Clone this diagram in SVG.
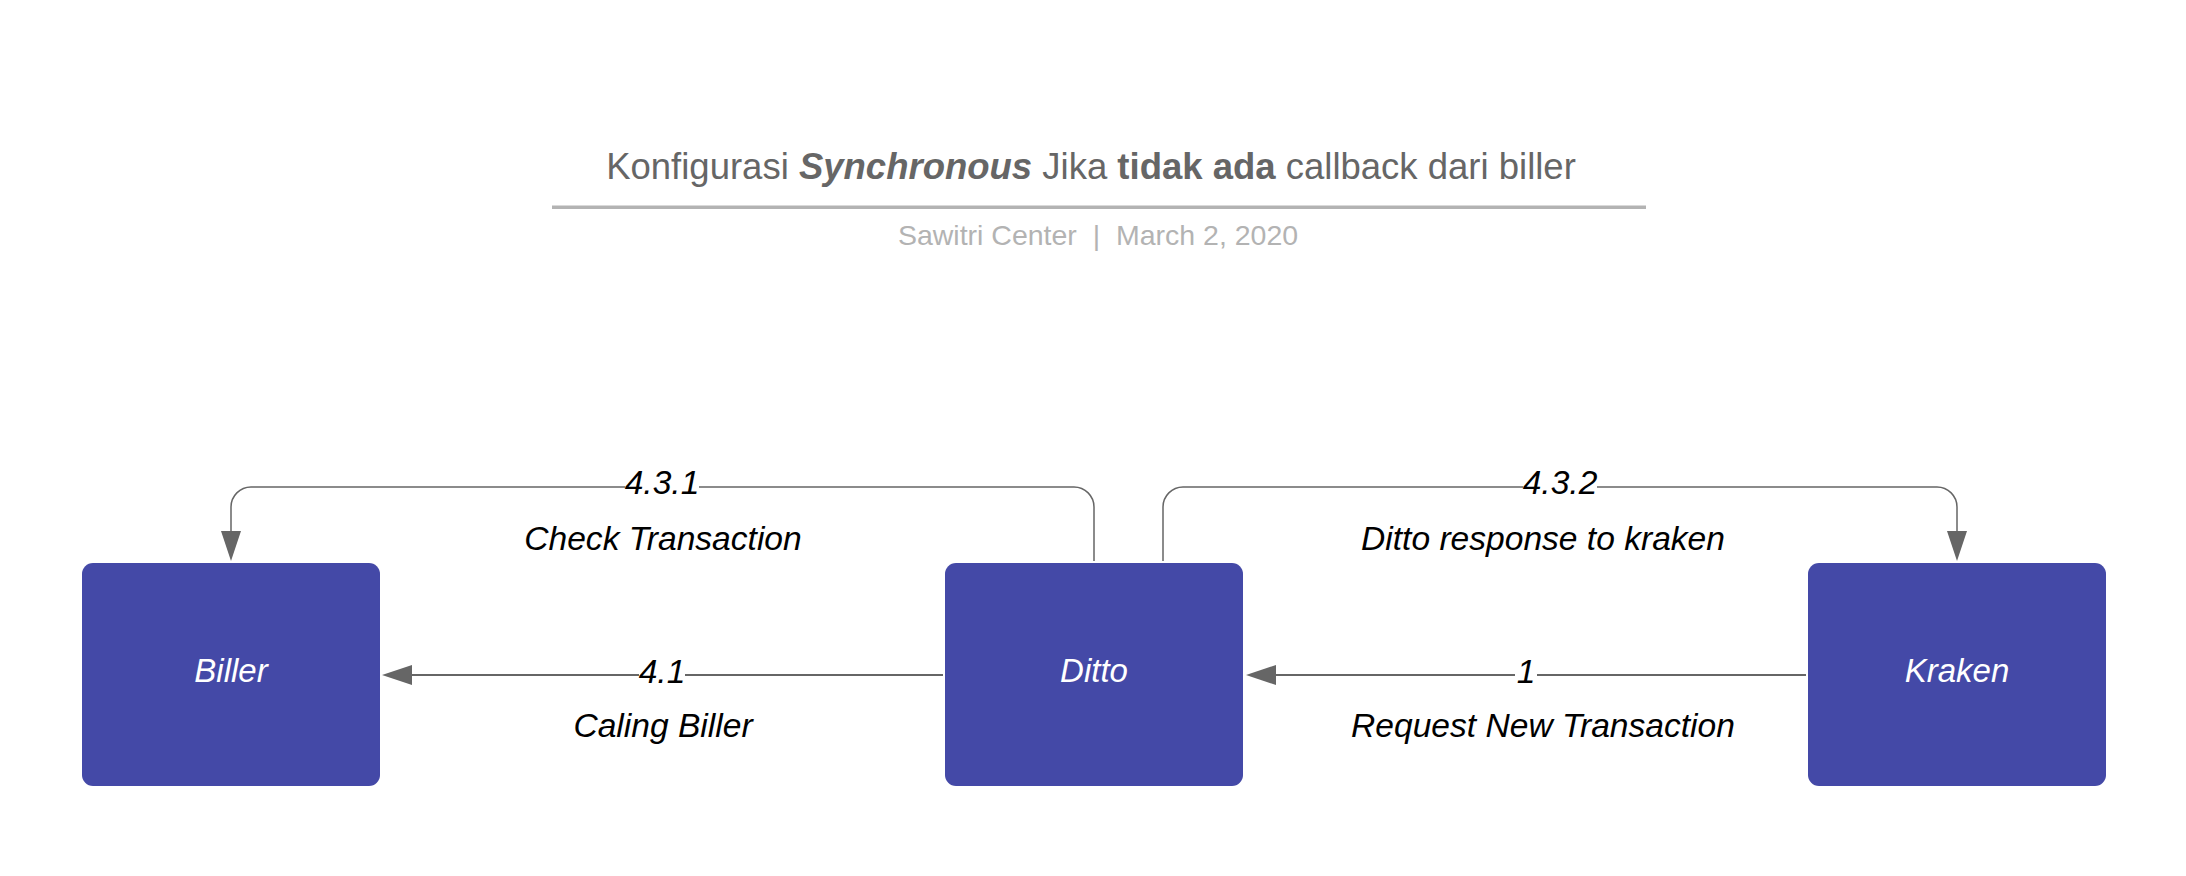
<svg xmlns="http://www.w3.org/2000/svg" width="2186" height="876" viewBox="0 0 2186 876">
  <style>
    .title { font-family: "Liberation Sans", Arial, sans-serif; font-size: 36.5px; fill: #666666; }
    .sub { font-family: "Liberation Sans", Arial, sans-serif; font-size: 28.5px; fill: #b3b3b3; white-space: pre; }
    .node rect { fill: #4449a7; }
    .node text { font-family: "Liberation Sans", Arial, sans-serif; font-size: 33px; font-style: italic; fill: #ffffff; text-anchor: middle; }
    .lbl { font-family: "Liberation Sans", Arial, sans-serif; font-size: 33.6px; font-style: italic; fill: #000000; text-anchor: middle; }
    .thin { fill: none; stroke: #666666; stroke-width: 1.5; }
    .thick { fill: none; stroke: #666666; stroke-width: 2; }
    .bg { fill: #ffffff; }
  </style>
  <defs>
    <marker id="arrow" viewBox="0 0 30 20" refX="0" refY="10" markerWidth="30" markerHeight="20" markerUnits="userSpaceOnUse" orient="auto">
      <path d="M0,0 L30,10 L0,20 Z" fill="#666666"/>
    </marker>
  </defs>
  <rect width="2186" height="876" fill="#ffffff"/>

  <g id="header">
    <text class="title" x="1091" y="179" text-anchor="middle">Konfigurasi <tspan font-weight="bold" font-style="italic">Synchronous</tspan> Jika <tspan font-weight="bold">tidak ada</tspan> callback dari biller</text>
    <rect x="552" y="205.5" width="1094" height="3.5" fill="#b3b3b3"/>
    <text class="sub" x="1098" y="245" text-anchor="middle">Sawitri Center  |  March 2, 2020</text>
  </g>

  <g id="connectors">
    <path class="thin" d="M1094,561 V507 A20,20 0 0 0 1074,487 H251 A20,20 0 0 0 231,507 V531" marker-end="url(#arrow)"/>
    <path class="thin" d="M1163,561 V507 A20,20 0 0 1 1183,487 H1937 A20,20 0 0 1 1957,507 V531" marker-end="url(#arrow)"/>
    <path class="thick" d="M943,675 H412" marker-end="url(#arrow)"/>
    <path class="thick" d="M1806,675 H1276" marker-end="url(#arrow)"/>

    <rect class="bg" x="625" y="470" width="74" height="30"/>
    <text class="lbl" x="662" y="494">4.3.1</text>
    <rect class="bg" x="1523" y="470" width="74" height="30"/>
    <text class="lbl" x="1560" y="494">4.3.2</text>
    <rect class="bg" x="639" y="659" width="46" height="30"/>
    <text class="lbl" x="662" y="683">4.1</text>
    <rect class="bg" x="1515" y="659" width="22" height="30"/>
    <text class="lbl" x="1526" y="683">1</text>

    <text class="lbl" x="663" y="550">Check Transaction</text>
    <text class="lbl" x="1543" y="550">Ditto response to kraken</text>
    <text class="lbl" x="663" y="737">Caling Biller</text>
    <text class="lbl" x="1543" y="737">Request New Transaction</text>
  </g>

  <g id="node-biller" class="node">
    <rect x="82" y="563" width="298" height="223" rx="11" ry="11"/>
    <text x="231" y="682">Biller</text>
  </g>
  <g id="node-ditto" class="node">
    <rect x="945" y="563" width="298" height="223" rx="11" ry="11"/>
    <text x="1094" y="682">Ditto</text>
  </g>
  <g id="node-kraken" class="node">
    <rect x="1808" y="563" width="298" height="223" rx="11" ry="11"/>
    <text x="1957" y="682">Kraken</text>
  </g>
</svg>
